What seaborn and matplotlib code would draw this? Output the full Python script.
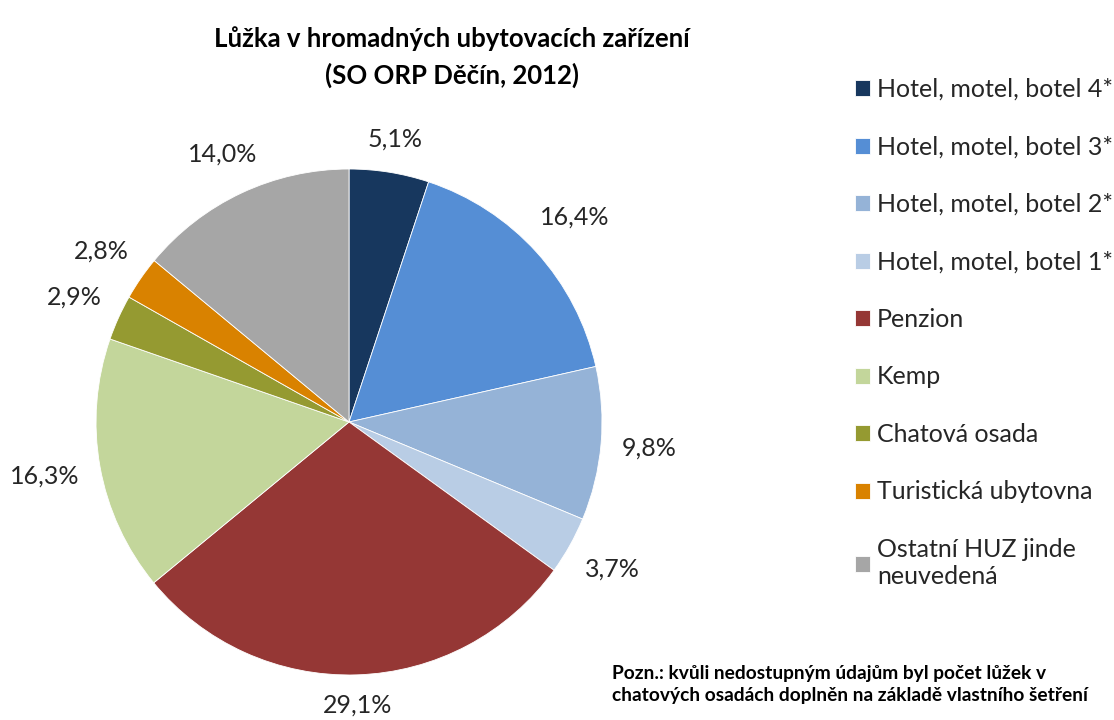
import matplotlib
matplotlib.use("Agg")
import numpy as np
import matplotlib.pyplot as plt
import seaborn as sns

categories = ["Hotel, motel, botel 4*", "Hotel, motel, botel 3*", "Hotel, motel, botel 2*",
              "Hotel, motel, botel 1*", "Penzion", "Kemp", "Chatová osada",
              "Turistická ubytovna", "Ostatní HUZ jinde\nneuvedená"]
values = [5.1, 16.4, 9.8, 3.7, 29.1, 16.3, 2.9, 2.8, 14.0]
value_labels = ["5,1%", "16,4%", "9,8%", "3,7%", "29,1%", "16,3%", "2,9%", "2,8%", "14,0%"]
colors = ["#17375E", "#558ED5", "#95B3D7", "#B9CDE5", "#953735", "#C3D69B",
          "#959A31", "#D98200", "#A6A6A6"]

sns.set_theme(style="white")
plt.rcParams['font.family'] = ['Lato', 'DejaVu Sans']

fig = plt.figure(figsize=(11.14, 7.2), dpi=100)
ax = fig.add_axes([0.0862, 0.0625, 0.4542, 0.7028])
wedges, _ = ax.pie(values, colors=colors, startangle=90, counterclock=False,
                   wedgeprops=dict(edgecolor="white", linewidth=0.6))
ax.set_xlim(-1, 1)
ax.set_ylim(-1, 1)
ax.set_aspect("equal")
ax.axis("off")

# Outside-end data labels: box placed a fixed gap beyond the rim
fig.canvas.draw()
renderer = fig.canvas.get_renderer()
gap = 20
for w, lab in zip(wedges, value_labels):
    theta = np.deg2rad((w.theta1 + w.theta2) / 2)
    c, s = np.cos(theta), np.sin(theta)
    t = ax.annotate(lab, xy=(c, s), xytext=(0, 0), textcoords="offset pixels",
                    ha="center", va="center", fontsize=18, color="#262626")
    bb = t.get_window_extent(renderer)
    hw, hh = bb.width / 2, bb.height / 2 * 0.8
    d = gap + abs(c) * hw + abs(s) * hh
    t.set_position((d * c, d * s))

fig.text(0.406, 0.947, "Lůžka v hromadných ubytovacích zařízení", ha="center", va="center",
         fontsize=18.5, fontweight="bold", color="black")
fig.text(0.406, 0.895, "(SO ORP Děčín, 2012)", ha="center", va="center",
         fontsize=18.5, fontweight="bold", color="black")

leg = fig.legend(wedges, categories, loc="upper left", bbox_to_anchor=(0.7675, 0.8917),
                 frameon=False, fontsize=18, handlelength=0.6, handleheight=0.6,
                 handletextpad=0.28, labelspacing=1.38, borderpad=0, borderaxespad=0,
                 labelcolor="#262626")

fig.text(0.549, 0.0493, "Pozn.: kvůli nedostupným údajům byl počet lůžek v\nchatových osadách doplněn na základě vlastního šetření",
         ha="left", va="center", fontsize=13.8, fontweight="bold", color="black", linespacing=1.42)

fig.savefig("out.png", dpi=100)
